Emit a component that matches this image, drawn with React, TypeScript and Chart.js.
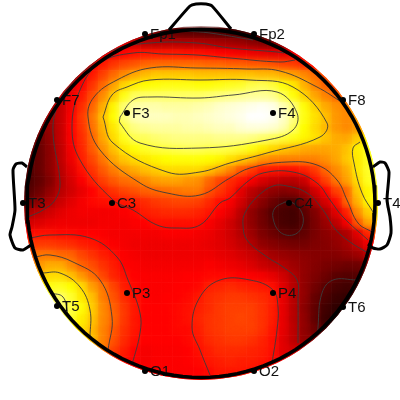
import { useEffect, useRef } from "react";
import { Chart, registerables } from "chart.js";

Chart.register(...registerables);

// Scalp potential, percent of the colour range, one row per grid line from front to back
const row00 = [0,0,0,0,0,0,0,0,0,20,19,17,15,13,11,10,10,9,8,7,6,5,5,5];
const row01 = [0,0,0,0,0,0,30,31,31,30,28,26,25,25,25,25,25,24,23,22,21,19,17,16,17,20,22];
const row02 = [0,0,0,0,0,25,30,33,35,38,40,41,41,41,41,40,40,39,38,37,36,35,34,33,33,34,34,30];
const row03 = [0,0,0,0,25,30,36,41,45,48,50,52,53,53,53,53,53,52,52,51,51,50,50,49,47,46,43,38];
const row04 = [0,0,0,0,30,34,41,47,53,58,62,65,67,67,67,67,66,66,66,66,66,66,65,65,63,61,58,54,48];
const row05 = [0,0,0,25,32,37,45,53,61,69,73,75,76,77,77,77,76,76,77,78,79,82,83,81,76,72,64,57,52,47];
const row06 = [0,0,24,28,35,41,49,58,67,77,84,85,85,85,85,85,85,86,87,88,89,90,90,89,83,76,69,62,57,53,50];
const row07 = [0,20,22,28,36,44,52,63,74,86,91,92,92,91,91,91,92,93,95,96,97,98,99,98,93,87,76,69,63,59,57,60];
const row08 = [0,18,22,28,37,46,55,66,75,87,93,94,94,94,93,93,94,95,96,97,98,100,100,99,95,88,77,71,66,60,58,60];
const row09 = [0,16,21,28,38,45,54,64,72,82,88,90,91,91,91,92,92,93,94,94,96,97,97,96,93,85,75,70,65,60,58,60,65];
const row10 = [14,14,20,28,37,44,52,62,70,78,83,84,86,87,88,88,88,88,89,89,89,88,86,84,81,78,74,71,67,63,62,67,72,75];
const row11 = [12,13,19,27,36,43,51,59,66,72,76,79,81,82,83,84,84,83,83,82,80,77,73,70,67,65,63,62,62,63,66,73,78,80];
const row12 = [10,13,19,27,35,42,48,55,62,67,70,72,74,75,76,76,76,75,74,71,68,65,60,58,57,57,57,57,59,62,67,72,78,82];
const row13 = [9,13,19,26,33,40,45,51,56,60,63,66,68,70,70,70,70,67,63,58,51,47,42,41,40,40,42,46,53,58,63,72,79,82];
const row14 = [8,12,17,25,31,37,42,47,51,54,55,58,61,62,62,60,59,53,48,44,41,37,32,29,27,26,29,40,47,55,61,70,78,82];
const row15 = [10,14,20,26,30,34,38,42,45,48,50,52,53,54,55,56,56,50,46,42,34,27,23,20,18,19,22,30,38,47,52,67,74,80];
const row16 = [14,19,24,29,33,36,39,40,40,41,42,44,46,47,48,48,47,44,40,37,31,24,19,14,10,9,15,24,31,39,52,64,74,78];
const row17 = [24,27,30,33,35,36,36,36,36,37,39,42,43,44,44,44,43,41,38,34,27,20,15,10,8,7,11,17,24,33,42,58,68,72];
const row18 = [30,32,34,35,35,35,35,36,36,36,37,38,40,40,40,40,40,37,34,30,25,20,15,11,8,7,10,16,21,27,36,50,62,65];
const row19 = [39,40,40,39,39,38,38,37,36,36,36,36,36,37,37,37,36,35,33,30,26,22,17,14,11,10,12,16,19,21,24,33,43,50];
const row20 = [45,46,46,45,44,42,41,39,37,36,35,35,35,35,35,35,35,34,33,31,28,25,20,18,16,15,15,17,18,20,23,28,35,35];
const row21 = [50,55,55,53,52,48,45,42,40,37,36,35,35,35,35,35,35,35,34,33,31,29,26,23,21,20,19,18,18,18,20,22,26];
const row22 = [55,60,63,63,58,52,49,45,42,38,37,36,36,36,36,36,36,37,36,35,34,32,29,27,25,22,20,18,16,15,14,14,16];
const row23 = [0,65,70,70,66,60,54,48,43,40,38,37,37,37,37,38,38,39,39,39,38,37,36,34,30,25,20,17,14,11,10,10,12];
const row24 = [0,72,77,78,75,70,61,55,48,42,39,37,37,37,38,38,39,42,43,44,43,42,41,40,33,26,20,15,11,8,7,7];
const row25 = [0,0,85,85,80,72,66,56,50,44,40,38,37,38,38,39,41,44,45,46,46,45,44,42,34,26,20,13,9,6,5,5];
const row26 = [0,0,85,87,82,76,68,58,52,46,41,38,38,38,39,40,42,44,46,47,47,47,45,42,34,26,19,12,7,4,3,3];
const row27 = [0,0,0,85,80,73,67,58,53,46,41,38,38,38,39,40,43,45,46,47,48,47,45,42,34,26,20,12,6,3,3];
const row28 = [0,0,0,80,74,71,65,57,51,45,41,38,38,38,39,39,42,45,46,47,47,47,45,41,34,27,20,14,8,5];
const row29 = [0,0,0,0,72,70,66,57,50,44,40,38,38,38,38,39,41,44,45,46,46,45,43,40,33,27,20,18,12];
const row30 = [0,0,0,0,0,65,60,56,47,42,38,36,37,37,37,38,40,42,44,44,44,43,42,40,33,30,28];
const row31 = [0,0,0,0,0,0,0,50,42,40,37,36,37,37,37,38,39,41,42,43,42,42,41,39,35,32];
const row32 = [0,0,0,0,0,0,0,0,0,40,38,36,37,37,37,37,38,39,41,41,41,40,38,38];
const row33 = [0,0,0,0,0,0,0,0,0,0,0,0,37,37,38,38,39,39,40,40,40];

const potentialRows = [
  row00,row01,row02,row03,row04,row05,row06,row07,row08,row09,row10,row11,
  row12,row13,row14,row15,row16,row17,row18,row19,row20,row21,row22,row23,
  row24,row25,row26,row27,row28,row29,row30,row31,row32,row33,
];

// Electrodes
const electrodeNames = ["Fp1","Fp2","F7","F3","F4","F8","T3","C3","C4","T4","T5","P3","P4","T6","O1","O2"];
const electrodeX = [145,254,57,127,273,343,23,112,289,378,57,127,273,343,145,254];
const electrodeY = [34,34,100,113,113,100,203,203,203,203,306,293,293,307,371,371];

// Iso-potential lines
const isoFrontTop = [[187,31],[210,33],[253,40]];
const isoLeftDark = [[28,217],[43,210],[55,200],[60,183],[53,133],[57,107],[70,85],[90,66],[113,50],[150,43],[197,43],[230,48],[277,52],[284,53]];
const isoMid = [[295,60],[280,62],[230,58],[197,55],[163,54],[133,53],[100,63],[80,90],[72,127],[80,160],[113,200],[133,210],[157,225],[177,228],[200,225],[220,203],[230,198],[247,182],[263,173],[293,172],[317,183],[330,200],[343,217],[368,240]];
const isoWarm = [[343,103],[317,87],[280,71],[247,69],[197,68],[150,68],[117,80],[94,97],[88,117],[100,150],[140,183],[167,193],[200,195],[230,178],[250,168],[287,162],[317,165],[337,180],[347,200],[358,223],[372,232]];
const isoHigh = [[103,117],[112,95],[127,87],[150,80],[200,80],[250,80],[293,87],[327,123],[320,137],[267,153],[230,163],[200,172],[167,172],[113,143],[103,117]];
const isoTop = [[120,117],[133,100],[150,97],[200,98],[233,95],[277,92],[297,113],[293,130],[267,140],[200,148],[140,143],[120,123],[120,117]];
const isoRightEar = [[360,142],[353,148],[354,163],[362,193],[373,212]];
const isoCentralOuter = [[368,253],[350,242],[335,229],[323,210],[307,193],[287,186],[273,186],[257,197],[245,213],[243,225],[247,240],[267,257],[283,267],[297,280],[298,300],[298,343]];
const isoCentralInner = [[285,202],[275,208],[273,218],[280,232],[293,235],[302,227],[302,213],[293,203],[285,202]];
const isoOccipitalDark = [[318,340],[318,327],[322,293],[333,280],[357,280]];
const isoParietal = [[210,375],[200,350],[192,327],[200,297],[220,280],[250,280],[273,290],[278,307],[277,330],[272,363]];
const isoLeft40 = [[30,238],[50,235],[90,238],[117,257],[128,280],[140,313],[140,333],[132,365]];
const isoLeft55 = [[35,257],[50,255],[73,262],[100,280],[112,317],[108,350]];
const isoLeft70 = [[42,273],[60,273],[80,287],[90,310],[90,337]];
const isoLeft85 = [[50,293],[63,297],[68,315]];
const isoLines = [isoFrontTop,isoLeftDark,isoMid,isoWarm,isoHigh,isoTop,isoRightEar,isoCentralOuter,isoCentralInner,isoOccipitalDark,isoParietal,isoLeft40,isoLeft55,isoLeft70,isoLeft85];

// Head drawing
const nose = [[169,30],[190,6],[196,4],[206,4],[212,6],[231,29]];
const leftEar = [[27,167],[22,163],[16,164],[13,170],[15,210],[12,227],[10,235],[15,248],[23,250],[31,245]];
const rightEar = [[373,167],[380,162],[385,163],[389,172],[387,200],[390,217],[391,233],[387,245],[380,249],[373,248],[368,244]];
const headCentre = [201, 203.5];
const headRadius = 174;
const discCentre = [201, 203];
const discRadius = 177;
const gridStart = [29.3, 33.3];
const gridStep = 10.6;

function hot(percent: number): string {
  const v = percent / 100;
  const clamp = (n: number) => Math.max(0, Math.min(1, n));
  const r = clamp((v + 0.04) / 0.415);
  const g = clamp((v - 0.375) / 0.375);
  const b = clamp((v - 0.75) / 0.25);
  return `rgb(${Math.round(r * 255)},${Math.round(g * 255)},${Math.round(b * 255)})`;
}

const toPoints = (pairs: number[][]) => pairs.map(([x, y]) => ({ x, y }));

export default function App() {
  const ref = useRef<HTMLCanvasElement>(null);

  useEffect(() => {
    const cells: { x: number; y: number }[] = [];
    const colours: string[] = [];
    potentialRows.forEach((row, j) => {
      row.forEach((value, i) => {
        if (value > 0) {
          cells.push({ x: gridStart[0] + i * gridStep, y: gridStart[1] + j * gridStep });
          colours.push(hot(value));
        }
      });
    });

    const circle: { x: number; y: number }[] = [];
    for (let deg = 0; deg <= 360; deg += 3) {
      const a = (deg * Math.PI) / 180;
      circle.push({ x: headCentre[0] + headRadius * Math.cos(a), y: headCentre[1] + headRadius * Math.sin(a) });
    }

    const outlineStyle = {
      type: "scatter" as const,
      showLine: true,
      borderColor: "#000",
      pointRadius: 0,
      fill: false,
      clip: false as const,
    };

    const datasets: any[] = [
      {
        label: "potential",
        data: cells,
        pointStyle: "rect",
        pointRadius: 7.7,
        pointBorderWidth: 0,
        pointBackgroundColor: colours,
        order: 31,
      },
      {
        label: "potential soft",
        data: cells,
        pointStyle: "rect",
        pointRadius: 8.6,
        pointBorderWidth: 0,
        pointBackgroundColor: colours,
        order: 30,
      },
      ...isoLines.map((line, k) => ({
        label: "iso" + k,
        data: toPoints(line),
        showLine: true,
        borderColor: "rgba(60,60,60,0.9)",
        borderWidth: 1,
        tension: 0.4,
        pointRadius: 0,
        order: 20,
      })),
      {
        label: "electrodes",
        data: electrodeX.map((x, i) => ({ x, y: electrodeY[i] })),
        pointStyle: "circle",
        pointRadius: 3,
        pointBorderWidth: 0,
        pointBackgroundColor: "#000",
        order: 10,
      },
      { ...outlineStyle, label: "head", data: circle, borderWidth: 3.6, order: 5 },
      { ...outlineStyle, label: "nose", data: toPoints(nose), borderWidth: 3, tension: 0.2, order: 4 },
      { ...outlineStyle, label: "left ear", data: toPoints(leftEar), borderWidth: 3, tension: 0.2, order: 3 },
      { ...outlineStyle, label: "right ear", data: toPoints(rightEar), borderWidth: 3, tension: 0.2, order: 2 },
    ];

    const topoPlugin = {
      id: "topo",
      beforeDatasetDraw(chart: any, args: any) {
        const label = chart.data.datasets[args.index].label as string;
        if (label.startsWith("potential") || label.startsWith("iso")) {
          const { ctx, scales } = chart;
          ctx.save();
          ctx.beginPath();
          ctx.arc(
            scales.x.getPixelForValue(discCentre[0]),
            scales.y.getPixelForValue(discCentre[1]),
            discRadius,
            0,
            Math.PI * 2
          );
          ctx.clip();
          if (label === "potential soft") ctx.filter = "blur(3.5px)";
        }
      },
      afterDatasetDraw(chart: any, args: any) {
        const label = chart.data.datasets[args.index].label as string;
        if (label.startsWith("potential") || label.startsWith("iso")) {
          chart.ctx.restore();
        }
        if (label === "electrodes") {
          const { ctx, scales } = chart;
          ctx.save();
          ctx.fillStyle = "#111";
          ctx.font = '15px "Liberation Sans", Arial, sans-serif';
          ctx.textAlign = "left";
          ctx.textBaseline = "middle";
          electrodeNames.forEach((name, i) => {
            ctx.fillText(
              name,
              scales.x.getPixelForValue(electrodeX[i]) + 5,
              scales.y.getPixelForValue(electrodeY[i]) + 1
            );
          });
          ctx.restore();
        }
      },
    };

    const chart = new Chart(ref.current!, {
      type: "scatter",
      data: { datasets },
      options: {
        animation: false,
        responsive: false,
        events: [],
        layout: { padding: 0, autoPadding: false },
        plugins: { legend: { display: false }, tooltip: { enabled: false } },
        scales: {
          x: { type: "linear", min: 0, max: 400, display: false },
          y: { type: "linear", min: 0, max: 400, reverse: true, display: false },
        },
      },
      plugins: [topoPlugin],
    });
    return () => chart.destroy();
  }, []);

  return (
    <div style={{ position: "absolute", left: 0, top: 0, width: 400, height: 400, background: "#fff" }}>
      <canvas ref={ref} width={400} height={400} style={{ display: "block" }} />
    </div>
  );
}
